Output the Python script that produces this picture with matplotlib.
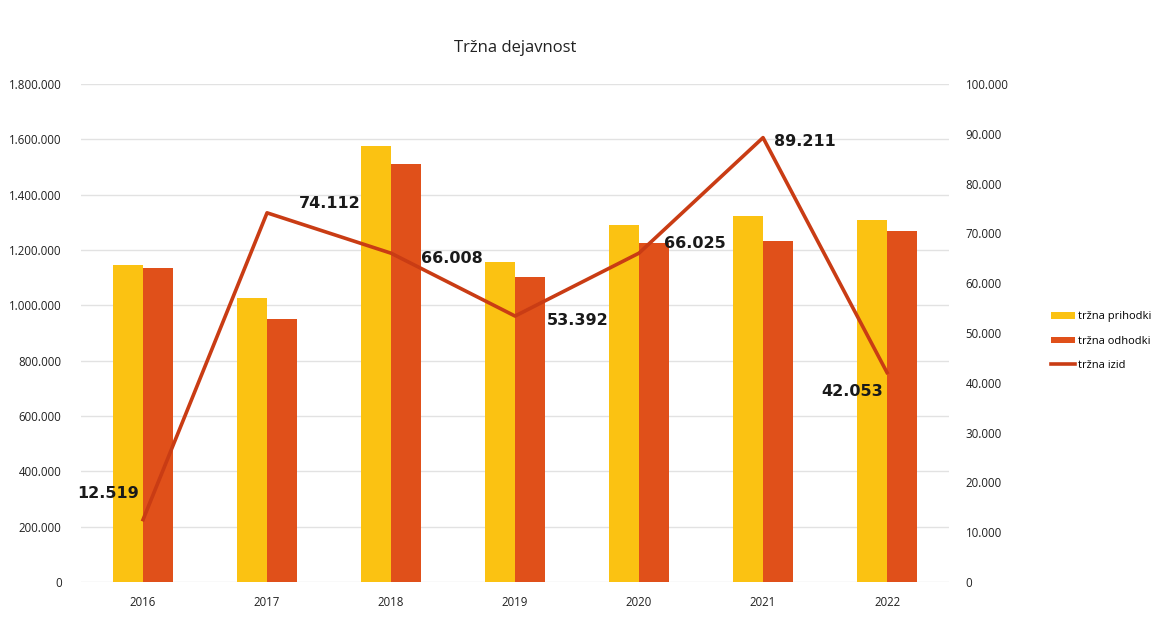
import matplotlib.pyplot as plt
import numpy as np
from matplotlib.ticker import FuncFormatter, MultipleLocator

# data
years = ['2016', '2017', '2018', '2019', '2020', '2021', '2022']
prihodki = [1146000, 1025000, 1577000, 1155000, 1291000, 1323000, 1309000]
odhodki = [1133000, 951000, 1511000, 1102000, 1225000, 1234000, 1267000]
izid = [12519, 74112, 66008, 53392, 66025, 89211, 42053]

# label offsets (points) for the result labels
label_offsets = [(-25, 19), (45, 6.5), (44, -3.5), (45, -3), (40, 7), (30, -3), (-25, -14)]

yellow = '#FBC212'
orange = '#E0501A'
line_col = '#C93C14'

plt.rcParams['font.family'] = ['Open Sans', 'DejaVu Sans']

fig = plt.figure(figsize=(11.63, 6.26), dpi=100)
ax = fig.add_axes([0.0697, 0.0703, 0.7463, 0.7957])
ax2 = ax.twinx()

x = np.arange(len(years))
w = 0.245
ax.bar(x - w / 2, prihodki, w, color=yellow, label='tržna prihodki', zorder=2)
ax.bar(x + w / 2, odhodki, w, color=orange, label='tržna odhodki', zorder=2)

ax.set_xlim(-0.5, len(years) - 0.5)
ax.set_ylim(0, 1800000)
ax.yaxis.set_major_locator(MultipleLocator(200000))
ax2.set_ylim(0, 100000)
ax2.yaxis.set_major_locator(MultipleLocator(10000))

fmt = FuncFormatter(lambda v, p: f'{int(v):,}'.replace(',', '.'))
ax.yaxis.set_major_formatter(fmt)
ax2.yaxis.set_major_formatter(fmt)

ax.grid(axis='y', color='#E2E2E2', linewidth=1, zorder=0)
ax.set_axisbelow(True)

ax2.plot(x, izid, color=line_col, linewidth=2.6, label='tržna izid', zorder=3)
for xi, v, off in zip(x, izid, label_offsets):
    ax2.annotate(f'{v:,}'.replace(',', '.'), (xi, v), xytext=off, textcoords='offset points',
                 ha='center', va='center', fontsize=11.5, fontweight='bold',
                 family=['DejaVu Sans'], color='#1A1A1A')

ax.set_xticks(x)
ax.set_xticklabels(years)
for a in (ax, ax2):
    for s in a.spines.values():
        s.set_visible(False)
    a.tick_params(length=0, labelsize=8.3, colors='#222222')
ax.tick_params(axis='y', pad=14)
ax2.tick_params(axis='y', pad=12)
ax.tick_params(axis='x', pad=10)

ax.set_zorder(1)
ax2.set_zorder(2)
ax.patch.set_visible(False)

ax.set_title('Tržna dejavnost', fontsize=12, pad=23, color='#222222')

h1, l1 = ax.get_legend_handles_labels()
h2, l2 = ax2.get_legend_handles_labels()
fig.legend(h1 + h2, l1 + l2, loc='center left', bbox_to_anchor=(0.895, 0.455),
           frameon=False, fontsize=8, handlelength=2.2, handleheight=0.5,
           handletextpad=0.2, labelspacing=1.2)

fig.savefig('out.png', dpi=100)
